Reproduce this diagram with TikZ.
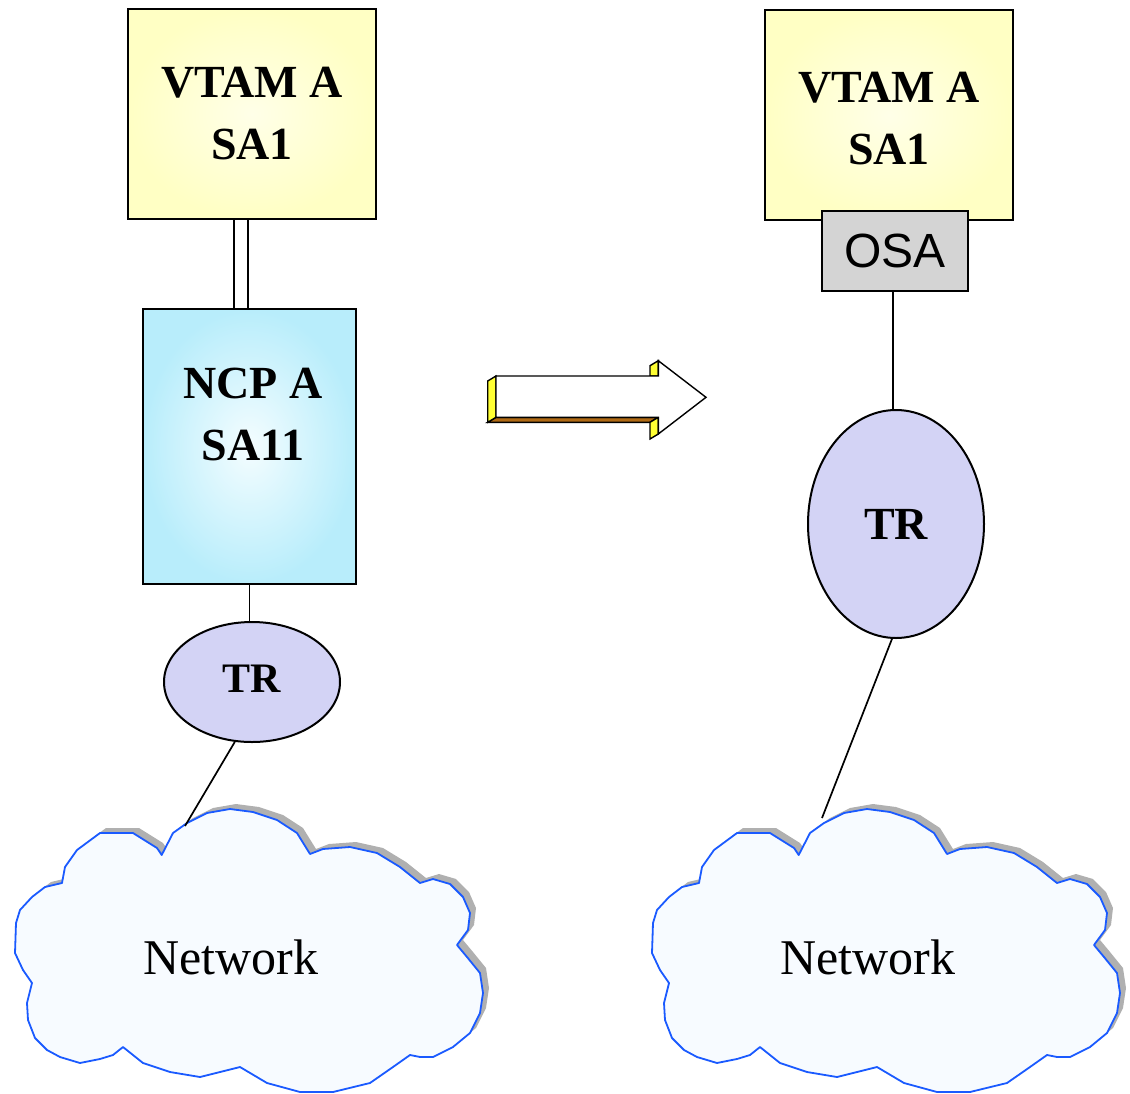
\documentclass[tikz,border=0pt]{standalone}
\usepackage{fontspec}
\setmainfont{Liberation Serif}
\newfontfamily\osafont{Liberation Sans}
\usetikzlibrary{shapes.geometric}

\definecolor{vtamin}{HTML}{FFFFE8}
\definecolor{vtamout}{HTML}{FFFFC4}
\definecolor{ncpin}{HTML}{F4FDFF}
\definecolor{ncpout}{HTML}{B8EDFB}
\definecolor{trfill}{HTML}{D3D3F5}
\definecolor{osafill}{HTML}{D4D4D4}
\definecolor{cloudfill}{HTML}{F7FBFF}
\definecolor{cloudedge}{HTML}{1A5AFF}
\definecolor{cloudgray}{HTML}{B0B0B0}
\definecolor{sideyellow}{HTML}{FFFF33}
\definecolor{sidebrown}{HTML}{B06A14}

% outline of one cloud, in px
\def\cloudpts{(161.7,855) -- (173,833) -- (187,823) -- (207,813) -- (230,809) -- (253,812)
  -- (277,820) -- (297,833) -- (310,854) -- (323,849) -- (350,847) -- (377,853) -- (400,867)
  -- (420,883) -- (433,879) -- (450,884) -- (463,897) -- (470,913) -- (468,930) -- (457,945)
  -- (467,957) -- (480,973) -- (483,993) -- (480,1013) -- (470,1033) -- (453,1047) -- (433,1057)
  -- (420,1057) -- (410,1055) -- (393,1067) -- (370,1083) -- (333,1092) -- (300,1092) -- (267,1083)
  -- (240,1067) -- (200,1077) -- (170,1072) -- (143,1063) -- (123,1047) -- (113,1055) -- (100,1059)
  -- (80,1063) -- (60,1057) -- (47,1050) -- (35,1038) -- (28,1020) -- (27,1003) -- (32,983)
  -- (23,970) -- (15,953) -- (16,923) -- (20,910) -- (32,897) -- (45,887) -- (62,883) -- (65,867)
  -- (77,850) -- (100,833) -- (133,833) -- (157,848) -- cycle}

\tikzset{
  netcloud/.pic={
    \fill[cloudgray,shift={(6,-5)}] \cloudpts;
    \draw[cloudedge,fill=cloudfill,line width=0.9pt,line join=round] \cloudpts;
  }
}

\begin{document}
\begin{tikzpicture}[x=0.5pt,y=-0.5pt,
  boxline/.style={draw=black,line width=1pt},
  bigtext/.style={font=\fontsize{23}{31}\selectfont\bfseries,align=center},
  vtambox/.style={boxline,shading=radial,inner color=vtamin,outer color=vtamout,
    minimum width=124pt,minimum height=105pt,inner sep=0pt},
  ncpbox/.style={boxline,shading=radial,inner color=ncpin,outer color=ncpout,
    minimum width=106.5pt,minimum height=137.5pt,inner sep=0pt},
  trnode/.style={ellipse,boxline,fill=trfill,inner sep=0pt,font=\bfseries},
  nettext/.style={font=\fontsize{25}{29}\selectfont},
  link/.style={draw=black,line width=0.85pt},
  arrowface/.style={draw=black,line width=0.7pt,line join=miter}]
\useasboundingbox (0,0) rectangle (1130,1093);

% clouds
\pic at (0,0) {netcloud};
\pic at (637,0) {netcloud};
\node[nettext] (netA) at (231,957) {Network};
\node[nettext] (netB) at (868,957) {Network};
\coordinate (cloudA) at (185,826);
\coordinate (cloudB) at (822,818);

% before
\node[vtambox,bigtext] (vtamA) at (252,114) {VTAM A\\SA1};
\node[ncpbox] (ncp) at (249.5,446.5) {};
\node[bigtext] (ncptext) at (253,414) {NCP A\\SA11};
\draw[line width=1pt,double distance=5.85pt] ([xshift=-5.5pt]vtamA.south) -- ([xshift=-4.25pt]ncp.north);
\node[trnode,minimum width=88pt,minimum height=60pt,font=\fontsize{21}{25}\selectfont\bfseries] (trA) at (252,682) {\raisebox{3.5pt}{TR}};
\draw[link] (ncp.south) -- (ncp.south |- trA.north);
\draw[link] (trA.-106) -- (cloudA);

% migration arrow
\draw[arrowface,fill=sidebrown] (496,417.3) -- (487.7,422.3) -- (650,422.3) -- (658.3,417.3) -- cycle;
\draw[arrowface,fill=sideyellow] (496,376) -- (487.7,381) -- (487.7,422.3) -- (496,417.3) -- cycle;
\draw[arrowface,fill=sideyellow] (658.3,360.7) -- (650,365.7) -- (650,376) -- (658.3,376) -- cycle;
\draw[arrowface,fill=sideyellow] (658.3,417.3) -- (650,422.3) -- (650,439) -- (658.3,434) -- cycle;
\draw[arrowface,fill=white] (496,376) -- (658.3,376) -- (658.3,360.7) -- (706,397.3)
  -- (658.3,434) -- (658.3,417.3) -- (496,417.3) -- cycle;

% after
\node[vtambox] (vtamB) at (889,115) {};
\node[bigtext] (vtamBtext) at (889,119) {VTAM A\\SA1};
\node[boxline,fill=osafill,minimum width=73pt,minimum height=40pt,inner sep=0pt,
  font=\osafont\fontsize{24}{26}\selectfont] (osa) at (895,251) {OSA};
\node[trnode,minimum width=88pt,minimum height=114pt,font=\fontsize{23}{27}\selectfont\bfseries] (trB) at (896,524) {TR};
\draw[link] ([xshift=-1pt]osa.south) -- ([xshift=-1pt]osa.south |- trB.north);
\draw[link] (trB.-92) -- (cloudB);
\end{tikzpicture}
\end{document}
